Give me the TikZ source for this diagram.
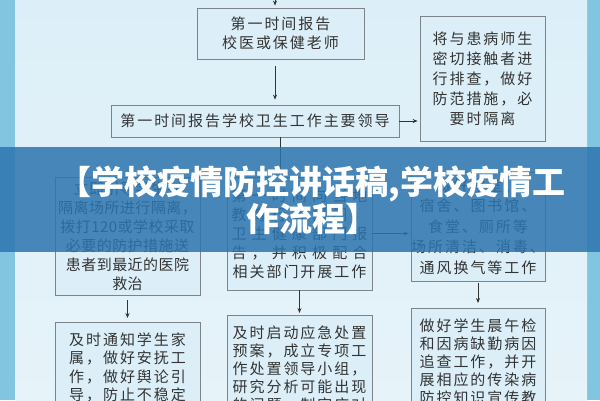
\documentclass[tikz,border=0pt]{standalone}
\usepackage{fontspec}
\newfontfamily\cjk[LetterSpace=13]{Noto Sans CJK SC}
\newfontfamily\cjkjusto[LetterSpace=3]{Noto Sans CJK SC}
\newfontfamily\fontetitulo{Noto Sans CJK SC}
\usetikzlibrary{arrows.meta}
\definecolor{fundo}{HTML}{DCEFF8}
\definecolor{fundoclaro}{HTML}{E6F3F9}
\definecolor{lateral}{HTML}{82C5E0}
\definecolor{borda}{HTML}{7C8489}
\definecolor{texto}{HTML}{333333}
\definecolor{faixa}{HTML}{2C74AE}
\newcommand{\esticar}[1]{\makebox[136pt][s]{#1}}

\begin{document}
\begin{tikzpicture}[x=1pt, y=-1pt,
    caixa/.style={draw=borda, line width=0.8pt, fill=fundo, text=texto,
        align=center, inner sep=0pt, font={\cjk\fontsize{15}{19}\selectfont}},
    seta/.style={texto, line width=0.7pt, -{Stealth[length=5pt,width=4pt]}}]

    \useasboundingbox (0,0) rectangle (600,400);
    \clip (0,0) rectangle (600,400);

    % Fundo
    \fill[lateral] (0,0) rectangle (600,400);
    \shade[top color=fundo, bottom color=fundoclaro] (15,0) rectangle (587,400);

    % Caixas de cima
    \node[caixa, minimum width=167, minimum height=51] (medico) at (280.5,33.5) {第一时间报告\\校医或保健老师};
    \node[caixa, minimum width=288, minimum height=32] (lider) at (255,121) {第一时间报告学校卫生工作主要领导};
    \node[caixa, minimum width=125, minimum height=125, font={\cjk\fontsize{15}{20}\selectfont}] (triagem) at (482.5,78.5)
        {将与患病师生\\密切接触者进\\行排查，做好\\防范措施，必\\要时隔离};

    % Caixas do meio
    \node[caixa, minimum width=145, minimum height=118, font={\cjkjusto\fontsize{15}{19}\selectfont}] (isolar) at (127.5,236)
        {立即引导学生到\\隔离场所进行隔离，\\拨打120或学校采取\\必要的防护措施送\\患者到最近的医院\\救治};
    \node[caixa, minimum width=145, minimum height=113] (relato) at (299.5,233.5)
        {\esticar{第 一 时 间 向 当 地}\\\esticar{教 育 行 政 部 门 、}\\\esticar{卫 生 健 康 部 门 报}\\\esticar{告 ， 并 积 极 配 合}\\相关部门开展工作};
    \node[caixa, minimum width=134, minimum height=109, font={\cjk\fontsize{15}{20.5}\selectfont}] (limpeza) at (478,226.5)
        {做好教室、\\宿舍、图书馆、\\食堂、厕所等\\场所清洁、消毒、\\通风换气等工作};

    % Caixas de baixo
    \node[caixa, anchor=north, text width=145, inner ysep=10pt, font={\cjk\fontsize{15}{18.5}\selectfont}] (familia) at (127.5,322)
        {及时通知学生家\\属，做好安抚工\\作，做好舆论引\\导，防止不稳定};
    \node[caixa, anchor=north, text width=145, inner ysep=10pt, font={\cjk\fontsize{15}{18}\selectfont}] (plano) at (299.5,315)
        {及时启动应急处置\\预案，成立专项工\\作处置领导小组，\\研究分析可能出现\\的问题，制定应对};
    \node[caixa, anchor=north, text width=134, inner ysep=10pt, font={\cjk\fontsize{15}{18}\selectfont}] (controle) at (478,308)
        {做好学生晨午检\\和因病缺勤病因\\追查工作，并开\\展相应的传染病\\防控知识宣传教};

    % Setas
    \coordinate (entrada) at (275,-2);
    \draw[seta, shorten >=2pt] (entrada) -- (entrada |- medico.north);
    \draw[seta, shorten <=7pt, shorten >=5pt] ([xshift=-5.5]medico.south) -- ([xshift=-5.5]medico.south |- lider.north);
    \draw[seta, shorten >=2pt] (lider.east) -- (lider.east -| triagem.west);
    \draw[seta, shorten >=2pt] ([xshift=25]lider.south) -- ([xshift=25]lider.south |- relato.north);
    \draw[seta, shorten >=2pt] (relato.east) -- (relato.east -| limpeza.west);
    \draw[seta, shorten <=5pt, shorten >=4pt] (isolar.south) -- (familia.north);
    \draw[seta, shorten >=2pt] (relato.south) -- (plano.north);
    \draw[seta, shorten <=2pt, shorten >=5pt] (limpeza.south) -- (controle.north);

    % Faixa do titulo
    \fill[faixa, opacity=0.85] (0,147) rectangle (600,252);
    \node[font={\fontetitulo\bfseries\fontsize{33}{35}\selectfont}, text=white, align=center] (titulo) at (312,200.5)
        {【学校疫情防控讲话稿,学校疫情工\\作流程】};
\end{tikzpicture}
\end{document}
